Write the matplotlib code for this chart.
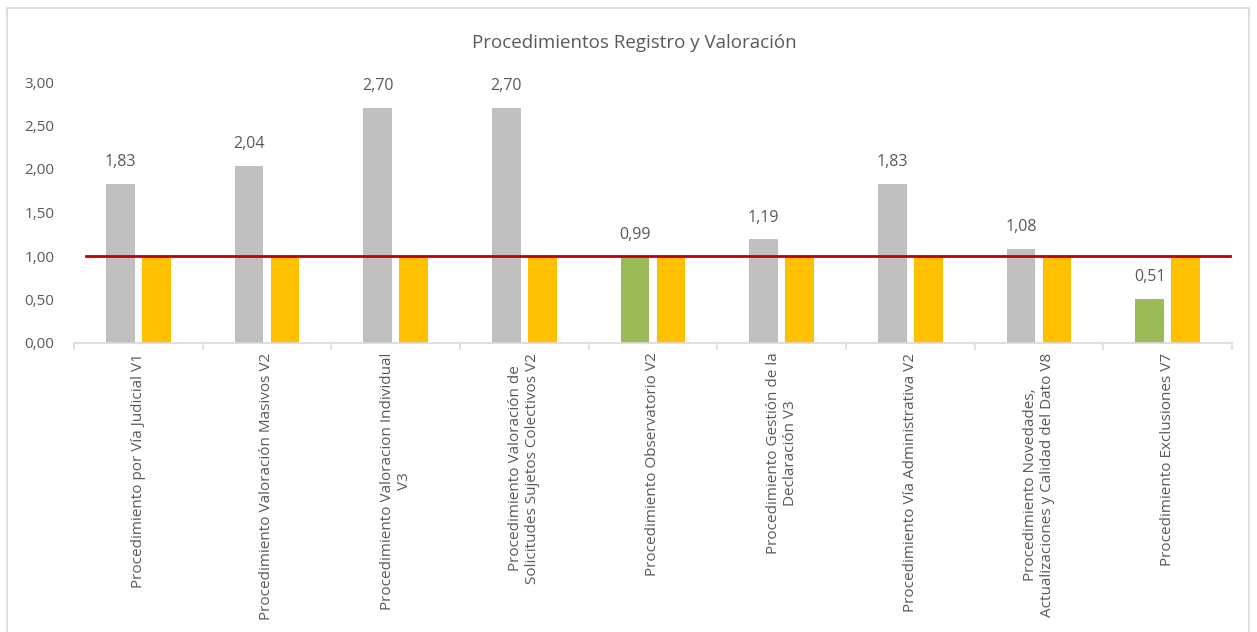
import matplotlib.pyplot as plt
from matplotlib.patches import Rectangle

plt.rcParams['font.family'] = ['Open Sans', 'DejaVu Sans']

categories = [
    "Procedimiento por Vía Judicial V1",
    "Procedimiento Valoración Masivos V2",
    "Procedimiento Valoracion Individual\nV3",
    "Procedimiento Valoración de\nSolicitudes Sujetos Colectivos V2",
    "Procedimiento Observatorio V2",
    "Procedimiento Gestión de la\nDeclaración V3",
    "Procedimiento Vía Administrativa V2",
    "Procedimiento Novedades,\nActualizaciones y Calidad del Dato V8",
    "Procedimiento Exclusiones V7",
]
resultado = [1.83, 2.04, 2.70, 2.70, 0.99, 1.19, 1.83, 1.08, 0.51]
meta = [1.0] * len(categories)
umbral = 1.0
yticks = [0, 0.5, 1.0, 1.5, 2.0, 2.5, 3.0]

txt = '#595959'
gris = '#BFBFBF'
verde = '#9BBB59'
oro = '#FFC000'
rojo = '#C00000'

fig = plt.figure(figsize=(12.57, 6.32), dpi=100)
fig.patches.append(Rectangle((7 / 1257, -0.01), 1242 / 1257, 1 - 8 / 632 + 0.01,
                             transform=fig.transFigure, fill=False,
                             edgecolor='#D9D9D9', linewidth=1.2))
ax = fig.add_axes([74 / 1257, 1 - 343 / 632, 1158 / 1257, 261 / 632])

x = list(range(len(categories)))
w = 0.225
off = 0.14
colores = [verde if v < umbral else gris for v in resultado]
ax.bar([i - off for i in x], resultado, width=w, color=colores, zorder=2)
ax.bar([i + off for i in x], meta, width=w, color=oro, zorder=2)
ax.axhline(umbral, xmin=0.0104, xmax=0.998, color=rojo, linewidth=2, zorder=3)

for i, v in zip(x, resultado):
    ax.text(i - off, v + 0.16, f"{v:.2f}".replace('.', ','), ha='center', va='bottom',
            fontsize=11.5, color=txt)

ax.set_xlim(-0.5, len(categories) - 0.5)
ax.set_ylim(0, 3)
ax.set_yticks(yticks)
ax.set_yticklabels([f"{t:.2f}".replace('.', ',') for t in yticks], fontsize=11, color=txt)
ax.tick_params(axis='y', length=0, pad=14)

ax.set_xticks([i - 0.5 for i in range(len(categories) + 1)], minor=True)
ax.set_xticks(x)
ax.set_xticklabels(categories, rotation=90, fontsize=11, color=txt,
                   ha='center', va='top', multialignment='center')
ax.tick_params(axis='x', which='major', length=0, pad=7)
ax.tick_params(axis='x', which='minor', length=5, color='#D9D9D9', width=1.2)

for s in ['top', 'right', 'left']:
    ax.spines[s].set_visible(False)
ax.spines['bottom'].set_color('#D9D9D9')
ax.spines['bottom'].set_linewidth(1.2)

fig.text(634 / 1257, 1 - 43 / 632, "Procedimientos Registro y Valoración",
         ha='center', va='center', fontsize=13.5, color=txt)

fig.savefig('out.png', dpi=100)
